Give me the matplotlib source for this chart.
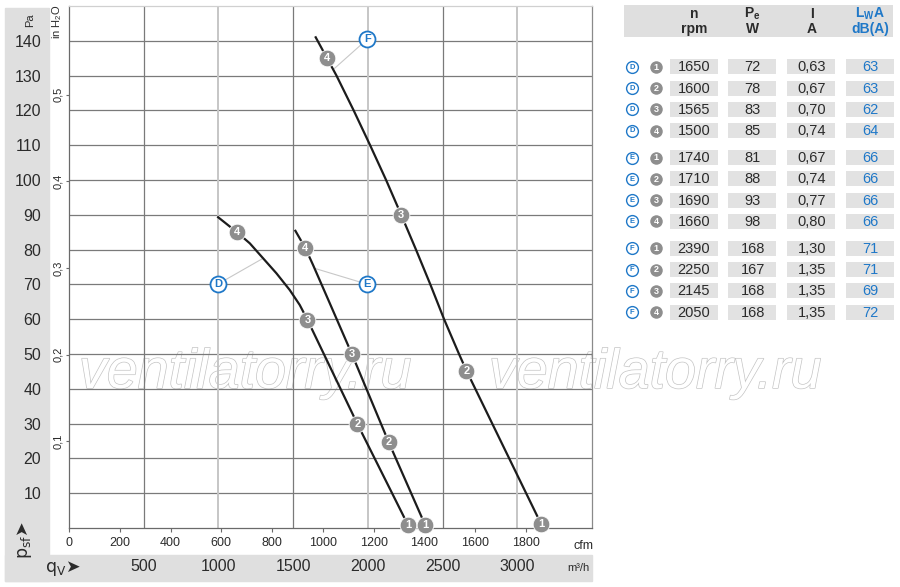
import matplotlib.pyplot as plt
from matplotlib.patches import Rectangle
import matplotlib.patheffects as pe

plt.rcParams['font.family'] = ['Liberation Sans Narrow', 'Liberation Sans', 'DejaVu Sans']
plt.rcParams['mathtext.default'] = 'regular'

## fan curves, q in m3/h, p in Pa
curve_d_q = [998, 1121, 1210, 1299, 1388, 1477, 1544, 1596, 1930, 2140, 2268]
curve_d_p = [89.3, 85.1, 81.8, 77.5, 73.2, 68.4, 64.1, 59.8, 29.9, 11.9, 0.9]
curve_e_q = [1515, 1582, 1633, 1745, 1894, 2139, 2383]
curve_e_p = [85.4, 80.4, 75.6, 64.6, 49.9, 24.7, 0.9]
curve_f_q = [1651, 1727, 1790, 1905, 2015, 2122, 2224, 2322, 2418, 2510, 2610, 2660, 3160]
curve_f_p = [141.0, 135.0, 130, 120, 110, 100, 89.9, 80, 70, 60, 50, 45.2, 1.1]

# operating points 1..4
pts_d_q = [2268, 1930, 1596, 1121]
pts_d_p = [0.9, 29.9, 59.8, 85.1]
pts_e_q = [2383, 2139, 1894, 1582]
pts_e_p = [0.9, 24.7, 49.9, 80.4]
pts_f_q = [3160, 2660, 2224, 1727]
pts_f_p = [1.1, 45.2, 89.9, 135.0]

# curve name tags and where their leader lines touch the curve
tag_names = ['D', 'E', 'F']
tag_q = [997, 1992, 1997]
tag_p = [70.1, 70.1, 140.5]
lead_q = [1299, 1645, 1775]
lead_p = [77.5, 74.6, 132.0]

pa_ticks = [10, 20, 30, 40, 50, 60, 70, 80, 90, 100, 110, 120, 130, 140]
qv_ticks = [500, 1000, 1500, 2000, 2500, 3000]
qv_dark = [500, 1500, 2500]
qv_light = [1000, 2000, 3000]
cfm_ticks = [0, 200, 400, 600, 800, 1000, 1200, 1400, 1600, 1800]
inh2o_ticks = [0.1, 0.2, 0.3, 0.4, 0.5]

## table
row_series = ['D'] * 4 + ['E'] * 4 + ['F'] * 4
row_point = [1, 2, 3, 4] * 3
rpm = [1650, 1600, 1565, 1500, 1740, 1710, 1690, 1660, 2390, 2250, 2145, 2050]
power = [72, 78, 83, 85, 81, 88, 93, 98, 168, 167, 168, 168]
current = [0.63, 0.67, 0.70, 0.74, 0.67, 0.74, 0.77, 0.80, 1.30, 1.35, 1.35, 1.35]
lwa = [63, 63, 62, 64, 66, 66, 66, 66, 71, 71, 69, 72]

BLUE = '#1f78c8'
GREY = '#8e8e8e'
BAND = '#dfdfdf'
DARK = '#2b2b2b'

W, H = 900, 587
fig = plt.figure(figsize=(9, 5.87), dpi=100)


def fx(x):
    return x / W


def fy(y):
    return 1 - y / H


# grey bands round the chart
fig.patches.append(Rectangle((fx(5), fy(581)), fx(44), (573) / H, transform=fig.transFigure,
                             color=BAND, zorder=-5))
fig.patches.append(Rectangle((fx(5), fy(581)), fx(587), 26 / H, transform=fig.transFigure,
                             color=BAND, zorder=-5))

# watermark
for x0 in [79, 489]:
    fig.text(fx(x0), fy(388), 'ventilatorry.ru', fontsize=40, fontstyle='italic',
             family=['Liberation Sans', 'DejaVu Sans'], color='white', zorder=-1,
             path_effects=[pe.Stroke(linewidth=1.0, foreground='#c4c4c4'), pe.Normal()])

ax = fig.add_axes([fx(69), fy(528), 523 / W, 522 / H])
ax.set_facecolor('none')
ax.set_xlim(0, 3500)
ax.set_ylim(0, 150)

ax.hlines(pa_ticks, 0, 3500, color='#7a7a7a', lw=0.9, zorder=1)
ax.vlines(qv_dark, 0, 150, color='#7a7a7a', lw=0.9, zorder=1)
ax.vlines(qv_light, 0, 150, color='#c6c6c6', lw=1.4, zorder=1)

ax.spines['left'].set_color('#6a6a6a')
ax.spines['bottom'].set_color('#6a6a6a')
ax.spines['right'].set_color('#8a8a8a')
ax.spines['top'].set_color('#d0d0d0')
for s in ax.spines.values():
    s.set_linewidth(0.9)

ax.set_yticks(pa_ticks)
ax.set_yticklabels([str(v) for v in pa_ticks])
ax.tick_params(axis='y', length=0, pad=20, labelsize=11.5, labelcolor=DARK)
ax.set_xticks(qv_ticks)
ax.set_xticklabels([str(v) for v in qv_ticks])
ax.tick_params(axis='x', length=0, pad=22.5, labelsize=11.5, labelcolor=DARK)

sec = ax.secondary_xaxis('bottom', functions=(lambda q: q / 1.699, lambda c: c * 1.699))
sec.set_xticks(cfm_ticks)
sec.set_xticklabels([str(v) for v in cfm_ticks])
sec.tick_params(length=3, width=0.8, color='#6a6a6a', pad=3.5, labelsize=9, labelcolor=DARK)
sec.spines['bottom'].set_visible(False)

secy = ax.secondary_yaxis('left', functions=(lambda p: p / 249.09, lambda i: i * 249.09))
secy.set_yticks(inh2o_ticks)
secy.set_yticklabels([f'{v:.1f}'.replace('.', ',') for v in inh2o_ticks], rotation=90, va='center')
secy.tick_params(length=2.5, width=0.8, color='#6a6a6a', pad=1.5, labelsize=8, labelcolor=DARK)
secy.spines['left'].set_visible(False)

# curves
for cq, cp in [(curve_d_q, curve_d_p), (curve_e_q, curve_e_p), (curve_f_q, curve_f_p)]:
    ax.plot(cq, cp, color='#1c1c1c', lw=1.6, zorder=3, clip_on=False)

# leader lines and tags
for name, tq, tp, lq, lp in zip(tag_names, tag_q, tag_p, lead_q, lead_p):
    ax.plot([tq, lq], [tp, lp], color='#c8c8c8', lw=0.8, zorder=2)
    ax.plot(tq, tp, 'o', ms=11.5, mfc='white', mec=BLUE, mew=1.3, zorder=5, clip_on=False)
    ax.text(tq, tp, name, color=BLUE, fontsize=8, fontweight='bold', ha='center', va='center',
            zorder=6, family=['Liberation Sans', 'DejaVu Sans'])

for pq, pp in [(pts_d_q, pts_d_p), (pts_e_q, pts_e_p), (pts_f_q, pts_f_p)]:
    ax.plot(pq, pp, 'o', ms=12, mfc=GREY, mec='white', mew=0.6, zorder=5, clip_on=False)
    for k, (q, p) in enumerate(zip(pq, pp)):
        ax.text(q, p, str(k + 1), color='white', fontsize=8, fontweight='bold', ha='center',
                va='center', zorder=6, family=['Liberation Sans', 'DejaVu Sans'])

# axis captions
fig.text(fx(30), fy(20), 'Pa', rotation=90, fontsize=8, ha='center', va='center', color=DARK)
fig.text(fx(57), fy(22), 'in H$_2$O', rotation=90, fontsize=8, ha='center', va='center', color=DARK)
fig.text(fx(25), fy(540), 'p$_{sf}$\u27a4', rotation=90, fontsize=12.5, ha='center', va='center',
         color=DARK, family=['Liberation Sans Narrow', 'DejaVu Sans'])
fig.text(fx(63), fy(568), 'q$_V$\u27a4', fontsize=12.5, ha='center', va='center', color=DARK,
         family=['Liberation Sans Narrow', 'DejaVu Sans'])
fig.text(fx(583), fy(546), 'cfm', fontsize=9, ha='center', va='center', color=DARK)
fig.text(fx(578), fy(568), 'm\u00b3/h', fontsize=8, ha='center', va='center', color=DARK)

# table
tax = fig.add_axes([fx(610), fy(335), 290 / W, 335 / H])
tax.set_xlim(610, 900)
tax.set_ylim(335, 0)
tax.axis('off')

tax.add_patch(Rectangle((624, 5), 269, 32, color=BAND, lw=0))
col_x = [694, 752.7, 811.7, 870]
col_l = [670, 728, 787, 846]
col_w = 47.5
head1 = ['n', 'P$_e$', 'I', 'L$_W$A']
head2 = ['rpm', 'W', 'A', 'dB(A)']
for k in range(4):
    c = BLUE if k == 3 else DARK
    tax.text(col_x[k], 14, head1[k], fontsize=10, fontweight='bold', ha='center', va='center', color=c)
    tax.text(col_x[k], 29, head2[k], fontsize=10, fontweight='bold', ha='center', va='center', color=c)

for r in range(len(rpm)):
    g = 'DEF'.index(row_series[r])
    y = 66.8 + g * 90.7 + (row_point[r] - 1) * 21.3
    vals = [str(rpm[r]), str(power[r]), f'{current[r]:.2f}'.replace('.', ','), str(lwa[r])]
    for k in range(4):
        tax.add_patch(Rectangle((col_l[k], y - 7.5), col_w, 15, color='#e2e2e2', lw=0))
        tax.text(col_x[k], y + 0.5, vals[k], fontsize=10.5, ha='center', va='center',
                 color=BLUE if k == 3 else DARK)
    tax.plot(632, y, 'o', ms=8.5, mfc='white', mec=BLUE, mew=1.0, clip_on=False)
    tax.text(632, y + 0.3, row_series[r], fontsize=5.5, fontweight='bold', color=BLUE,
             ha='center', va='center', family=['Liberation Sans', 'DejaVu Sans'])
    tax.plot(656, y, 'o', ms=9, mfc=GREY, mec='none', clip_on=False)
    tax.text(656, y + 0.3, str(row_point[r]), fontsize=6.5, fontweight='bold', color='white',
             ha='center', va='center', family=['Liberation Sans', 'DejaVu Sans'])

fig.savefig('out.png', dpi=100)
